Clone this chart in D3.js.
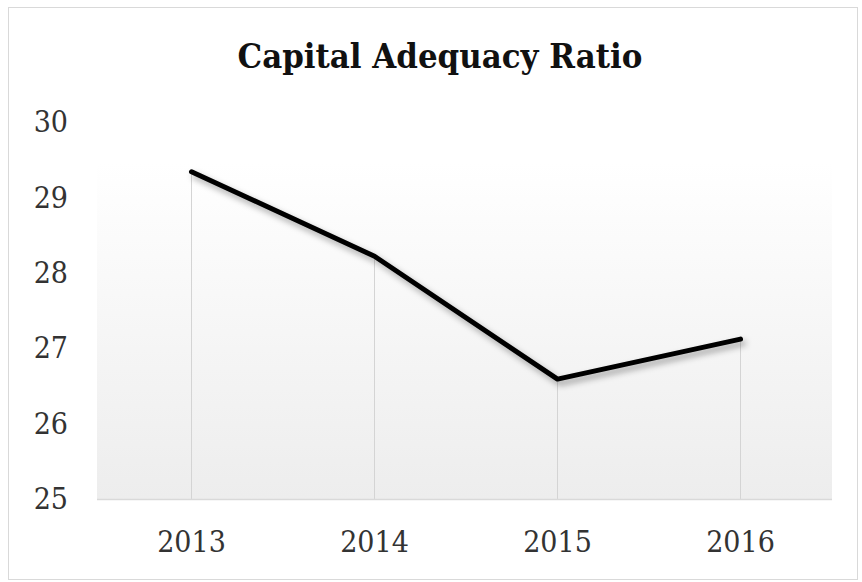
<!DOCTYPE html>
<html>
<head>
<meta charset="utf-8">
<script src="https://cdn.jsdelivr.net/npm/d3@7"></script>
<style>
  html, body { margin: 0; padding: 0; background: #fff; }
  svg { display: block; }
</style>
</head>
<body>
<svg id="chart" width="862" height="582"></svg>
<script>
// Capital adequacy ratio by year
const years = ["2013", "2014", "2015", "2016"];
const ratios = [29.34, 28.22, 26.59, 27.12];
const yTicks = [25, 26, 27, 28, 29, 30];
const title = "Capital Adequacy Ratio";

const W = 862, H = 582;
const plot = { left: 100, right: 832, top: 122, bottom: 499 };
const labelFont = "'DejaVu Serif Condensed', 'DejaVu Serif', serif";

const svg = d3.select("#chart");
const defs = svg.append("defs");

const grad = defs.append("linearGradient")
  .attr("id", "plotFill").attr("x1", 0).attr("y1", 0).attr("x2", 0).attr("y2", 1);
grad.append("stop").attr("offset", "0%").attr("stop-color", "#ffffff");
grad.append("stop").attr("offset", "100%").attr("stop-color", "#ededed");

const shadow = defs.append("filter").attr("id", "lineShadow")
  .attr("x", "-10%").attr("y", "-20%").attr("width", "120%").attr("height", "150%");
shadow.append("feDropShadow")
  .attr("dx", 3).attr("dy", 4).attr("stdDeviation", 3)
  .attr("flood-color", "#000").attr("flood-opacity", 0.35);

// chart frame
svg.append("rect")
  .attr("x", 8.5).attr("y", 7.5).attr("width", 849).attr("height", 572)
  .attr("fill", "#fff").attr("stroke", "#d9d9d9").attr("stroke-width", 1);

const x = d3.scaleBand().domain(years).range([plot.left, plot.right]);
const y = d3.scaleLinear().domain([25, 30]).range([plot.bottom, plot.top]);

// plot area background
svg.append("rect")
  .attr("x", plot.left - 3).attr("y", 163)
  .attr("width", plot.right - plot.left + 3).attr("height", plot.bottom - 163)
  .attr("fill", "url(#plotFill)");

// title, fitted to its box
const titleText = svg.append("text")
  .attr("x", 440).attr("y", 68)
  .attr("text-anchor", "middle")
  .attr("font-family", "'DejaVu Serif Condensed', 'DejaVu Serif', serif")
  .attr("font-weight", "bold")
  .attr("font-size", 30)
  .attr("fill", "#111")
  .text(title);
const tw = titleText.node().getComputedTextLength();
if (tw > 0) titleText.attr("font-size", 30 * 405 / tw);

// drop lines from each point to the baseline
svg.append("g").selectAll("line")
  .data(years)
  .join("line")
  .attr("x1", d => x(d) + x.bandwidth() / 2)
  .attr("x2", d => x(d) + x.bandwidth() / 2)
  .attr("y1", (d, i) => y(ratios[i]))
  .attr("y2", y(25))
  .attr("stroke", "#d4d4d4")
  .attr("stroke-width", 1);

// baseline
svg.append("line")
  .attr("x1", plot.left - 3).attr("x2", plot.right)
  .attr("y1", y(25) + 0.5).attr("y2", y(25) + 0.5)
  .attr("stroke", "#d9d9d9").attr("stroke-width", 1.5);

// y axis labels
const yAxis = d3.axisLeft(y).tickValues(yTicks).tickFormat(d3.format("d")).tickSize(0).tickPadding(0);
const yg = svg.append("g").attr("transform", "translate(68,0)").call(yAxis);
yg.select(".domain").remove();
yg.selectAll("text")
  .attr("font-family", labelFont)
  .attr("font-size", 30)
  .attr("fill", "#333");

// x axis labels
const xAxis = d3.axisBottom(x).tickSize(0).tickPadding(0);
const xg = svg.append("g").attr("transform", `translate(0,${y(25) + 32})`).call(xAxis);
xg.select(".domain").remove();
xg.selectAll("text")
  .attr("font-family", labelFont)
  .attr("font-size", 30)
  .attr("fill", "#333");

// ratio line
const line = d3.line()
  .x((d, i) => x(years[i]) + x.bandwidth() / 2)
  .y(d => y(d));

svg.append("path")
  .datum(ratios)
  .attr("d", line)
  .attr("fill", "none")
  .attr("stroke", "#000")
  .attr("stroke-width", 5)
  .attr("stroke-linejoin", "round")
  .attr("stroke-linecap", "round")
  .attr("filter", "url(#lineShadow)");
</script>
</body>
</html>
